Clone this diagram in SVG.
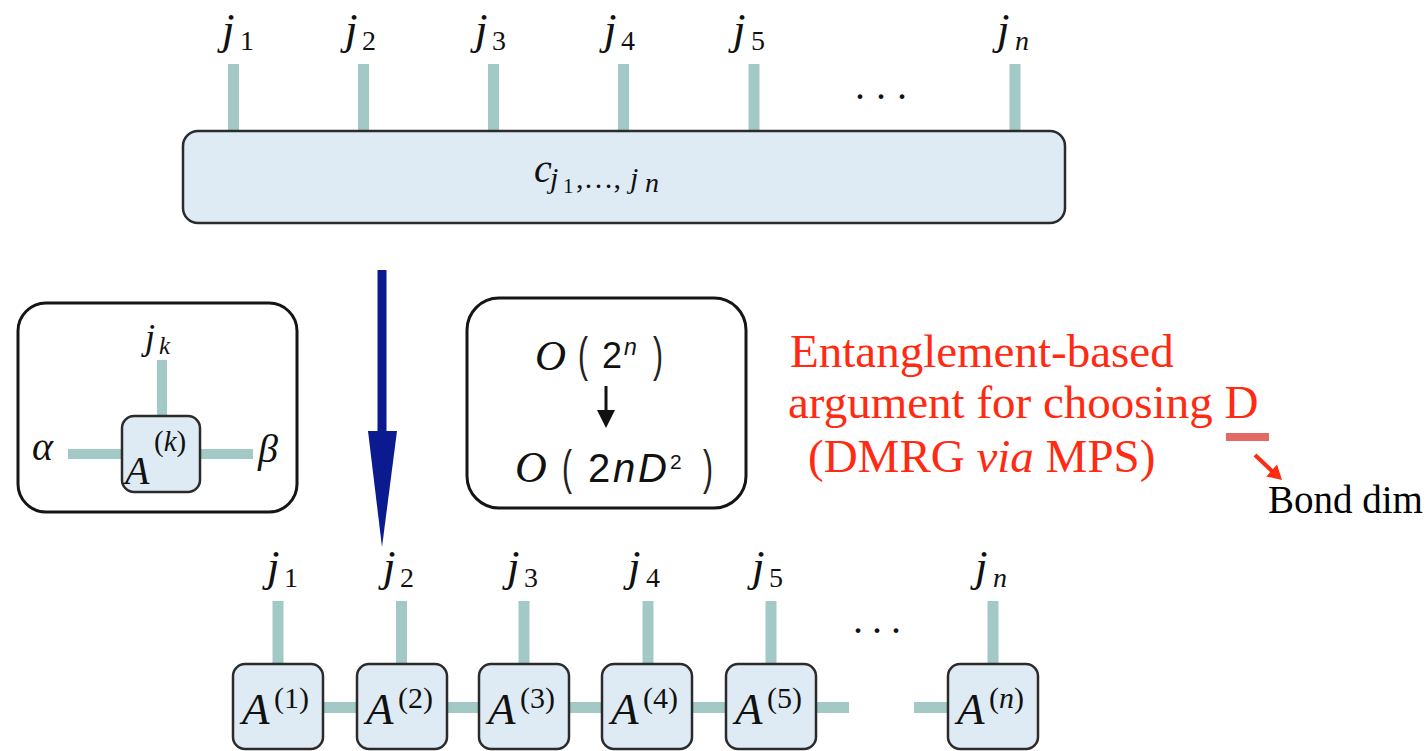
<svg xmlns="http://www.w3.org/2000/svg" width="1426" height="751" viewBox="0 0 1426 751">
<style>
.leg{fill:#a3c9c6}
.tn{fill:#deebf4;stroke:#2b2b2b;stroke-width:2.5}
.frame{fill:#fff;stroke:#151515;stroke-width:3}
.mi{font-family:"Liberation Serif",serif;font-style:italic;fill:#111}
.mr{font-family:"Liberation Serif",serif;font-style:normal;fill:#111}
.sa{font-family:"Liberation Sans",Arial,sans-serif;fill:#111}
.par{font-family:"Liberation Sans",Arial,sans-serif;font-size:40px;fill:#222}
.red{font-family:"Liberation Serif",serif;font-size:47px;fill:#ff2a12}
</style>
<rect width="1426" height="751" fill="#fff"/>

<g id="connectors">
  <rect class="leg" x="228" y="64" width="11" height="68"/>
  <rect class="leg" x="358" y="64" width="11" height="68"/>
  <rect class="leg" x="488" y="64" width="11" height="68"/>
  <rect class="leg" x="618" y="64" width="11" height="68"/>
  <rect class="leg" x="748.5" y="64" width="11" height="68"/>
  <rect class="leg" x="1009.5" y="64" width="11" height="68"/>
  <rect class="leg" x="272.5" y="601" width="11" height="64"/>
  <rect class="leg" x="396" y="601" width="11" height="64"/>
  <rect class="leg" x="518.5" y="601" width="11" height="64"/>
  <rect class="leg" x="642.5" y="601" width="11" height="64"/>
  <rect class="leg" x="765.5" y="601" width="11" height="64"/>
  <rect class="leg" x="987.5" y="601" width="11" height="64"/>
  <rect class="leg" x="322" y="702" width="36" height="11"/>
  <rect class="leg" x="446" y="702" width="34" height="11"/>
  <rect class="leg" x="568" y="702" width="35" height="11"/>
  <rect class="leg" x="691" y="702" width="36" height="11"/>
  <rect class="leg" x="815" y="702" width="34" height="11"/>
  <rect class="leg" x="914" y="702" width="35" height="11"/>
  <rect x="377.5" y="270" width="9" height="162" fill="#0b1a8e"/>
  <polygon points="368,431 397,431 382,547" fill="#0b1a8e"/>
  <line x1="1255" y1="455" x2="1273" y2="472" stroke="#ff2a12" stroke-width="4"/>
  <polygon points="1266.3,476.4 1277.1,464.6 1282,480" fill="#ff2a12"/>
</g>

<g id="top-tensor">
  <rect class="tn" x="183" y="131" width="882" height="92" rx="15"/>
  <text class="mi" font-size="40" x="534" y="182">c</text>
  <text class="mi" font-size="30" x="550" y="188">j</text>
  <text class="mr" font-size="21" x="563" y="193">1</text>
  <text class="mr" font-size="30" x="576" y="188">,…,</text>
  <text class="mi" font-size="30" x="630" y="188">j</text>
  <text class="mi" font-size="28" x="645" y="192">n</text>
</g>

<g id="top-labels">
  <text class="mi" font-size="45" x="222" y="44">j<tspan class="mr" font-size="28" x="240" y="50">1</tspan></text>
  <text class="mi" font-size="45" x="345" y="44">j<tspan class="mr" font-size="28" x="362" y="50">2</tspan></text>
  <text class="mi" font-size="45" x="475" y="44">j<tspan class="mr" font-size="28" x="492" y="50">3</tspan></text>
  <text class="mi" font-size="45" x="604" y="44">j<tspan class="mr" font-size="28" x="621" y="50">4</tspan></text>
  <text class="mi" font-size="45" x="733" y="44">j<tspan class="mr" font-size="28" x="751" y="50">5</tspan></text>
  <text class="mi" font-size="45" x="997" y="44">j<tspan class="mi" font-size="28" x="1015" y="50">n</tspan></text>
  <text class="mr" font-size="40" x="855" y="99" letter-spacing="11">...</text>
</g>

<g id="site-tensor">
  <rect class="frame" x="18" y="303" width="279" height="209" rx="28"/>
  <rect class="leg" x="157" y="360" width="10" height="58"/>
  <rect class="leg" x="68" y="449" width="56" height="10"/>
  <rect class="leg" x="198" y="449" width="55" height="10"/>
  <rect class="tn" x="122" y="416" width="78" height="76" rx="12"/>
  <text class="mi" font-size="36" x="145" y="349">j<tspan font-size="25" x="159" y="354">k</tspan></text>
  <text class="mi" font-size="40" x="32" y="460">α</text>
  <text class="mi" font-size="40" x="258" y="462">β</text>
  <text class="mi" font-size="40" x="125" y="484">A</text>
  <text class="mr" font-size="29" x="154" y="451">(<tspan class="mi">k</tspan>)</text>
</g>

<g id="cost-box">
  <rect class="frame" x="467" y="298" width="279" height="210" rx="32"/>
  <text class="mi" font-size="43" x="535" y="370">O</text>
  <text class="par" transform="translate(578,371) scale(0.75,1.2)">(</text>
  <text class="sa" font-size="36" x="602" y="368">2</text>
  <text class="sa" font-size="23" font-style="italic" x="624" y="355">n</text>
  <text class="par" transform="translate(653,371) scale(0.75,1.2)">)</text>
  <line x1="606" y1="386" x2="606" y2="412" stroke="#111" stroke-width="3"/>
  <polygon points="597,410 615,410 606,428" fill="#111"/>
  <text class="mi" font-size="44" x="515" y="482">O</text>
  <text class="par" transform="translate(562,484) scale(0.75,1.2)">(</text>
  <text class="sa" font-size="40" x="588" y="482" textLength="79" lengthAdjust="spacing">2<tspan font-style="italic">nD</tspan></text>
  <text class="sa" font-size="21" x="670" y="469">2</text>
  <text class="par" transform="translate(703,484) scale(0.75,1.2)">)</text>
</g>

<g id="note">
  <text class="red" x="790" y="367">Entanglement-based</text>
  <text class="red" x="788" y="418">argument for choosing D</text>
  <text class="red" x="808" y="472">(DMRG <tspan font-style="italic">via</tspan> MPS)</text>
  <path d="M1226,437 L1269,437" stroke="#e0504a" stroke-width="8" opacity="0.85"/>
  <text font-family="'Liberation Serif',serif" font-size="39" fill="#000" x="1268" y="513">Bond dim</text>
</g>

<g id="mps-chain">
  <rect class="tn" x="233" y="664" width="90" height="85" rx="12"/>
  <rect class="tn" x="357" y="664" width="90" height="85" rx="12"/>
  <rect class="tn" x="479" y="664" width="90" height="85" rx="12"/>
  <rect class="tn" x="602" y="664" width="90" height="85" rx="12"/>
  <rect class="tn" x="726" y="664" width="90" height="85" rx="12"/>
  <rect class="tn" x="948" y="664" width="90" height="85" rx="12"/>
  <text class="mi" font-size="45" x="242" y="724">A</text><text class="mr" font-size="30" x="274" y="708">(1)</text>
  <text class="mi" font-size="45" x="366" y="724">A</text><text class="mr" font-size="30" x="398" y="708">(2)</text>
  <text class="mi" font-size="45" x="488" y="724">A</text><text class="mr" font-size="30" x="520" y="708">(3)</text>
  <text class="mi" font-size="45" x="611" y="724">A</text><text class="mr" font-size="30" x="643" y="708">(4)</text>
  <text class="mi" font-size="45" x="735" y="724">A</text><text class="mr" font-size="30" x="767" y="708">(5)</text>
  <text class="mi" font-size="45" x="957" y="724">A</text><text class="mr" font-size="30" x="989" y="708">(<tspan class="mi">n</tspan>)</text>
</g>

<g id="bottom-labels">
  <text class="mi" font-size="45" x="267" y="581">j<tspan class="mr" font-size="28" x="284" y="587">1</tspan></text>
  <text class="mi" font-size="45" x="383" y="581">j<tspan class="mr" font-size="28" x="400" y="587">2</tspan></text>
  <text class="mi" font-size="45" x="507" y="581">j<tspan class="mr" font-size="28" x="524" y="587">3</tspan></text>
  <text class="mi" font-size="45" x="628" y="581">j<tspan class="mr" font-size="28" x="646" y="587">4</tspan></text>
  <text class="mi" font-size="45" x="752" y="581">j<tspan class="mr" font-size="28" x="769" y="587">5</tspan></text>
  <text class="mi" font-size="45" x="975" y="581">j<tspan class="mi" font-size="28" x="993" y="587">n</tspan></text>
  <text class="mr" font-size="40" x="853" y="633" letter-spacing="9">...</text>
</g>
</svg>
